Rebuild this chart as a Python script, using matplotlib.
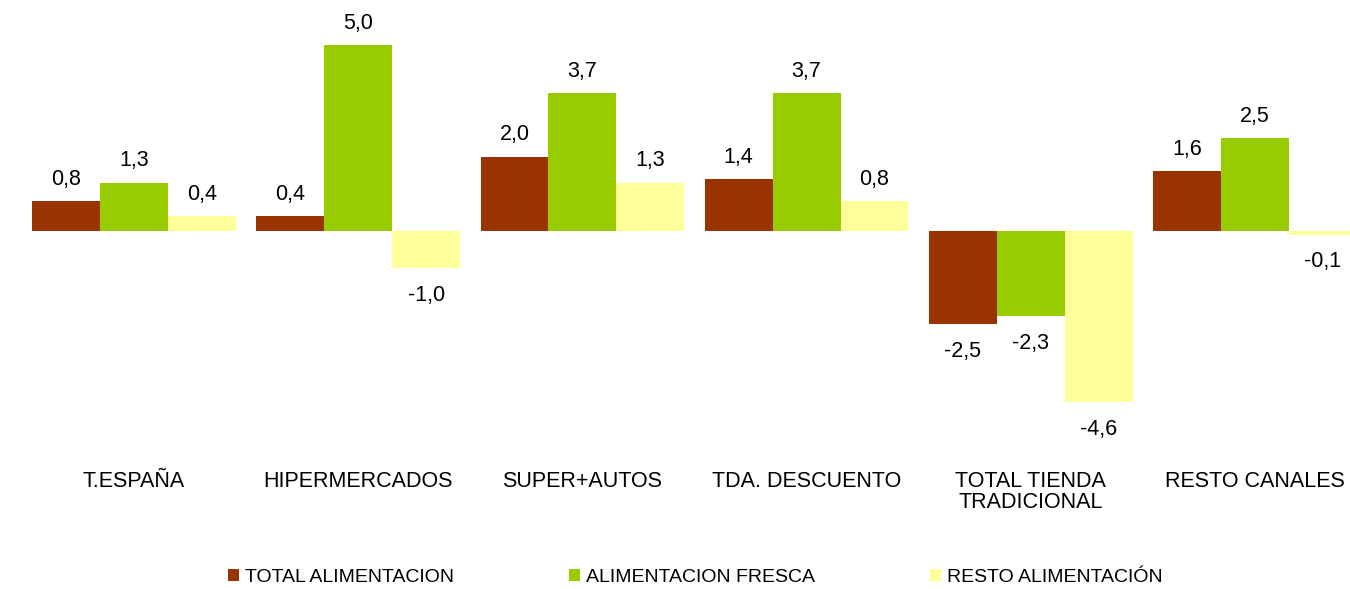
import matplotlib.pyplot as plt
import numpy as np

plt.rcParams['font.family'] = ['Liberation Sans', 'DejaVu Sans']

categories = ["T.ESPAÑA", "HIPERMERCADOS", "SUPER+AUTOS", "TDA. DESCUENTO",
              "TOTAL TIENDA\nTRADICIONAL", "RESTO CANALES"]
series_names = ["TOTAL ALIMENTACION", "ALIMENTACION FRESCA", "RESTO ALIMENTACIÓN"]
total_alim = [0.8, 0.4, 2.0, 1.4, -2.5, 1.6]
alim_fresca = [1.3, 5.0, 3.7, 3.7, -2.3, 2.5]
resto_alim = [0.4, -1.0, 1.3, 0.8, -4.6, -0.1]

colors = ["#993300", "#99CC00", "#FFFF99"]

fig = plt.figure(figsize=(13.5, 5.89), dpi=100)
ax = fig.add_axes([0, 0.219, 1, 0.781])

x = np.arange(len(categories))
w = 0.303

for i, (vals, name, c) in enumerate(zip([total_alim, alim_fresca, resto_alim],
                                        series_names, colors)):
    xs = x + (i - 1) * w
    ax.bar(xs, vals, width=w, color=c, label=name, linewidth=0)
    for xi, v in zip(xs, vals):
        txt = f"{v:.1f}".replace(".", ",")
        if v >= 0:
            ax.annotate(txt, (xi, v), xytext=(0, 8), textcoords="offset points",
                        ha="center", va="bottom", fontsize=15.5)
        else:
            ax.annotate(txt, (xi, v), xytext=(0, -12), textcoords="offset points",
                        ha="center", va="top", fontsize=15.5)

ax.set_xlim(-0.598, 5.424)
ax.set_ylim(-6.16, 6.21)
ax.set_xticks(x)
ax.set_xticklabels(categories, fontsize=15.5, linespacing=1.0)
ax.tick_params(axis="x", length=0, pad=8)
ax.set_yticks([])
for s in ax.spines.values():
    s.set_visible(False)

fig.legend(loc="center", bbox_to_anchor=(0.515, 0.02), ncol=3, frameon=False,
           fontsize=14, handlelength=0.57, handleheight=0.57,
           handletextpad=0.3, columnspacing=5.9, borderaxespad=0)

fig.savefig("out.png", dpi=100)
